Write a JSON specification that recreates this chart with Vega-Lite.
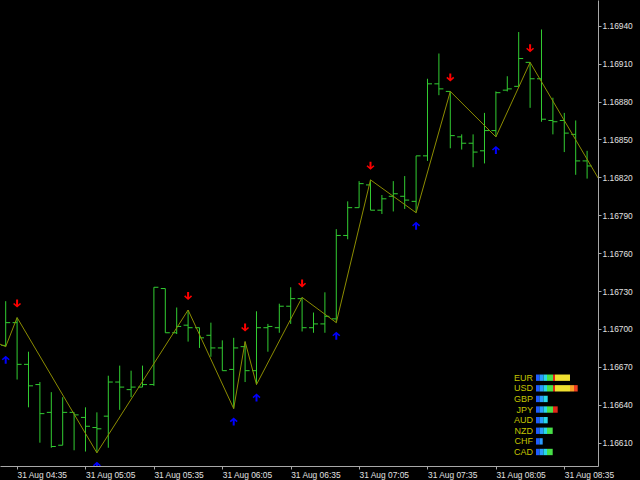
{
  "$schema": "https://vega.github.io/schema/vega-lite/v6.json",
  "width": 598,
  "height": 466,
  "autosize": {"type": "none"},
  "padding": {"left": 0, "top": 0, "right": 42, "bottom": 14},
  "background": "#000000",
  "config": {"view": {"stroke": null}},
  "datasets": {
    "bars": [
      {"t": "2018-08-31T04:30:00", "o": 1.16687, "h": 1.16722, "l": 1.16686, "c": 1.16705},
      {"t": "2018-08-31T04:35:00", "o": 1.16705, "h": 1.16709, "l": 1.16660, "c": 1.16672},
      {"t": "2018-08-31T04:40:00", "o": 1.16672, "h": 1.16682, "l": 1.16638, "c": 1.16655},
      {"t": "2018-08-31T04:45:00", "o": 1.16656, "h": 1.16658, "l": 1.16610, "c": 1.16633},
      {"t": "2018-08-31T04:50:00", "o": 1.16634, "h": 1.16650, "l": 1.16606, "c": 1.16607},
      {"t": "2018-08-31T04:55:00", "o": 1.16608, "h": 1.16646, "l": 1.16608, "c": 1.16634},
      {"t": "2018-08-31T05:00:00", "o": 1.16634, "h": 1.16634, "l": 1.16604, "c": 1.16632},
      {"t": "2018-08-31T05:05:00", "o": 1.16630, "h": 1.16638, "l": 1.16603, "c": 1.16623},
      {"t": "2018-08-31T05:10:00", "o": 1.16622, "h": 1.16634, "l": 1.16602, "c": 1.16621},
      {"t": "2018-08-31T05:15:00", "o": 1.16631, "h": 1.16663, "l": 1.16606, "c": 1.16658},
      {"t": "2018-08-31T05:20:00", "o": 1.16658, "h": 1.16671, "l": 1.16636, "c": 1.16654},
      {"t": "2018-08-31T05:25:00", "o": 1.16652, "h": 1.16667, "l": 1.16646, "c": 1.16654},
      {"t": "2018-08-31T05:30:00", "o": 1.16654, "h": 1.16671, "l": 1.16654, "c": 1.16656},
      {"t": "2018-08-31T05:35:00", "o": 1.16656, "h": 1.16733, "l": 1.16655, "c": 1.16733},
      {"t": "2018-08-31T05:40:00", "o": 1.16732, "h": 1.16732, "l": 1.16697, "c": 1.16697},
      {"t": "2018-08-31T05:45:00", "o": 1.16697, "h": 1.16717, "l": 1.16696, "c": 1.16702},
      {"t": "2018-08-31T05:50:00", "o": 1.16703, "h": 1.16715, "l": 1.16690, "c": 1.16701},
      {"t": "2018-08-31T05:55:00", "o": 1.16701, "h": 1.16701, "l": 1.16685, "c": 1.16693},
      {"t": "2018-08-31T06:00:00", "o": 1.16695, "h": 1.16705, "l": 1.16678, "c": 1.16685},
      {"t": "2018-08-31T06:05:00", "o": 1.16685, "h": 1.16691, "l": 1.16667, "c": 1.16667},
      {"t": "2018-08-31T06:10:00", "o": 1.16668, "h": 1.16693, "l": 1.16637, "c": 1.16685},
      {"t": "2018-08-31T06:15:00", "o": 1.16686, "h": 1.16690, "l": 1.16658, "c": 1.16667},
      {"t": "2018-08-31T06:20:00", "o": 1.16667, "h": 1.16714, "l": 1.16656, "c": 1.16701},
      {"t": "2018-08-31T06:25:00", "o": 1.16701, "h": 1.16704, "l": 1.16682, "c": 1.16702},
      {"t": "2018-08-31T06:30:00", "o": 1.16701, "h": 1.16720, "l": 1.16697, "c": 1.16718},
      {"t": "2018-08-31T06:35:00", "o": 1.16718, "h": 1.16733, "l": 1.16704, "c": 1.16724},
      {"t": "2018-08-31T06:40:00", "o": 1.16724, "h": 1.16725, "l": 1.16698, "c": 1.16701},
      {"t": "2018-08-31T06:45:00", "o": 1.16701, "h": 1.16713, "l": 1.16697, "c": 1.16704},
      {"t": "2018-08-31T06:50:00", "o": 1.16704, "h": 1.16729, "l": 1.16697, "c": 1.16710},
      {"t": "2018-08-31T06:55:00", "o": 1.16708, "h": 1.16779, "l": 1.16705, "c": 1.16774},
      {"t": "2018-08-31T07:00:00", "o": 1.16774, "h": 1.16801, "l": 1.16771, "c": 1.16796},
      {"t": "2018-08-31T07:05:00", "o": 1.16796, "h": 1.16817, "l": 1.16796, "c": 1.16815},
      {"t": "2018-08-31T07:10:00", "o": 1.16814, "h": 1.16818, "l": 1.16794, "c": 1.16794},
      {"t": "2018-08-31T07:15:00", "o": 1.16794, "h": 1.16806, "l": 1.16791, "c": 1.16803},
      {"t": "2018-08-31T07:20:00", "o": 1.16805, "h": 1.16817, "l": 1.16793, "c": 1.16807},
      {"t": "2018-08-31T07:25:00", "o": 1.16805, "h": 1.16821, "l": 1.16795, "c": 1.16802},
      {"t": "2018-08-31T07:30:00", "o": 1.16801, "h": 1.16837, "l": 1.16792, "c": 1.16837},
      {"t": "2018-08-31T07:35:00", "o": 1.16837, "h": 1.16898, "l": 1.16833, "c": 1.16894},
      {"t": "2018-08-31T07:40:00", "o": 1.16894, "h": 1.16918, "l": 1.16885, "c": 1.16890},
      {"t": "2018-08-31T07:45:00", "o": 1.16888, "h": 1.16888, "l": 1.16843, "c": 1.16853},
      {"t": "2018-08-31T07:50:00", "o": 1.16852, "h": 1.16854, "l": 1.16842, "c": 1.16847},
      {"t": "2018-08-31T07:55:00", "o": 1.16847, "h": 1.16854, "l": 1.16828, "c": 1.16840},
      {"t": "2018-08-31T08:00:00", "o": 1.16841, "h": 1.16871, "l": 1.16831, "c": 1.16857},
      {"t": "2018-08-31T08:05:00", "o": 1.16857, "h": 1.16888, "l": 1.16852, "c": 1.16887},
      {"t": "2018-08-31T08:10:00", "o": 1.16889, "h": 1.16900, "l": 1.16888, "c": 1.16890},
      {"t": "2018-08-31T08:15:00", "o": 1.16892, "h": 1.16935, "l": 1.16892, "c": 1.16914},
      {"t": "2018-08-31T08:20:00", "o": 1.16911, "h": 1.16911, "l": 1.16875, "c": 1.16898},
      {"t": "2018-08-31T08:25:00", "o": 1.16898, "h": 1.16937, "l": 1.16864, "c": 1.16866},
      {"t": "2018-08-31T08:30:00", "o": 1.16865, "h": 1.16883, "l": 1.16854, "c": 1.16864},
      {"t": "2018-08-31T08:35:00", "o": 1.16865, "h": 1.16871, "l": 1.16840, "c": 1.16855},
      {"t": "2018-08-31T08:40:00", "o": 1.16854, "h": 1.16865, "l": 1.16822, "c": 1.16833},
      {"t": "2018-08-31T08:45:00", "o": 1.16833, "h": 1.16841, "l": 1.16819, "c": 1.16829}
    ],
    "zz": [
      {"t": "2018-08-31T04:25:00", "p": 1.16690, "k": "x"},
      {"t": "2018-08-31T04:30:00", "p": 1.16686, "k": "lo"},
      {"t": "2018-08-31T04:35:00", "p": 1.16709, "k": "hi"},
      {"t": "2018-08-31T05:10:00", "p": 1.16602, "k": "lo"},
      {"t": "2018-08-31T05:50:00", "p": 1.16715, "k": "hi"},
      {"t": "2018-08-31T06:10:00", "p": 1.16637, "k": "lo"},
      {"t": "2018-08-31T06:15:00", "p": 1.16690, "k": "hi"},
      {"t": "2018-08-31T06:20:00", "p": 1.16656, "k": "lo"},
      {"t": "2018-08-31T06:40:00", "p": 1.16725, "k": "hi"},
      {"t": "2018-08-31T06:55:00", "p": 1.16705, "k": "lo"},
      {"t": "2018-08-31T07:10:00", "p": 1.16818, "k": "hi"},
      {"t": "2018-08-31T07:30:00", "p": 1.16792, "k": "lo"},
      {"t": "2018-08-31T07:45:00", "p": 1.16888, "k": "hi"},
      {"t": "2018-08-31T08:05:00", "p": 1.16852, "k": "lo"},
      {"t": "2018-08-31T08:20:00", "p": 1.16911, "k": "hi"},
      {"t": "2018-08-31T08:50:00", "p": 1.16819, "k": "x"}
    ],
    "meter": [
      {"cur": "EUR", "lo": 0, "hi": 3.5, "z": "z1"}, {"cur": "EUR", "lo": 3.5, "hi": 7.5, "z": "z2"}, {"cur": "EUR", "lo": 7.5, "hi": 11, "z": "z3"}, {"cur": "EUR", "lo": 11, "hi": 17, "z": "z4"}, {"cur": "EUR", "lo": 17, "hi": 19, "z": "z5"}, {"cur": "EUR", "lo": 19, "hi": 34, "z": "z6"},
      {"cur": "USD", "lo": 0, "hi": 3.5, "z": "z1"}, {"cur": "USD", "lo": 3.5, "hi": 7.5, "z": "z2"}, {"cur": "USD", "lo": 7.5, "hi": 11, "z": "z3"}, {"cur": "USD", "lo": 11, "hi": 17, "z": "z4"}, {"cur": "USD", "lo": 17, "hi": 19, "z": "z5"}, {"cur": "USD", "lo": 19, "hi": 34, "z": "z6"}, {"cur": "USD", "lo": 34, "hi": 38, "z": "z7"}, {"cur": "USD", "lo": 38, "hi": 41.7, "z": "z8"},
      {"cur": "GBP", "lo": 0, "hi": 3.5, "z": "z1"}, {"cur": "GBP", "lo": 3.5, "hi": 7.5, "z": "z2"}, {"cur": "GBP", "lo": 7.5, "hi": 11.7, "z": "z3"},
      {"cur": "JPY", "lo": 0, "hi": 3.5, "z": "z1"}, {"cur": "JPY", "lo": 3.5, "hi": 7.5, "z": "z2"}, {"cur": "JPY", "lo": 7.5, "hi": 11, "z": "z3"}, {"cur": "JPY", "lo": 11, "hi": 17, "z": "z4"}, {"cur": "JPY", "lo": 17, "hi": 21.7, "z": "z5"},
      {"cur": "AUD", "lo": 0, "hi": 3.5, "z": "z1"}, {"cur": "AUD", "lo": 3.5, "hi": 7.5, "z": "z2"}, {"cur": "AUD", "lo": 7.5, "hi": 11.7, "z": "z3"},
      {"cur": "NZD", "lo": 0, "hi": 3.5, "z": "z1"}, {"cur": "NZD", "lo": 3.5, "hi": 7.5, "z": "z2"}, {"cur": "NZD", "lo": 7.5, "hi": 11, "z": "z3"}, {"cur": "NZD", "lo": 11, "hi": 16.7, "z": "z4"},
      {"cur": "CHF", "lo": 0, "hi": 3.5, "z": "z1"}, {"cur": "CHF", "lo": 3.5, "hi": 6.7, "z": "z2"},
      {"cur": "CAD", "lo": 0, "hi": 3.5, "z": "z1"}, {"cur": "CAD", "lo": 3.5, "hi": 7.5, "z": "z2"}, {"cur": "CAD", "lo": 7.5, "hi": 11, "z": "z3"}, {"cur": "CAD", "lo": 11, "hi": 16.7, "z": "z4"}
    ]
  },
  "layer": [
    {
      "encoding": {
        "x": {
          "field": "t", "type": "temporal",
          "scale": {"domain": [
            {"year": 2018, "month": 8, "date": 31, "hours": 4, "minutes": 27, "seconds": 30},
            {"year": 2018, "month": 8, "date": 31, "hours": 8, "minutes": 49, "seconds": 47}
          ]},
          "axis": {
            "title": null, "grid": false, "format": "%d %b %H:%M",
            "values": [
              {"year": 2018, "month": 8, "date": 31, "hours": 4, "minutes": 35},
              {"year": 2018, "month": 8, "date": 31, "hours": 5, "minutes": 5},
              {"year": 2018, "month": 8, "date": 31, "hours": 5, "minutes": 35},
              {"year": 2018, "month": 8, "date": 31, "hours": 6, "minutes": 5},
              {"year": 2018, "month": 8, "date": 31, "hours": 6, "minutes": 35},
              {"year": 2018, "month": 8, "date": 31, "hours": 7, "minutes": 5},
              {"year": 2018, "month": 8, "date": 31, "hours": 7, "minutes": 35},
              {"year": 2018, "month": 8, "date": 31, "hours": 8, "minutes": 5},
              {"year": 2018, "month": 8, "date": 31, "hours": 8, "minutes": 35}
            ],
            "labelAlign": "left", "labelBaseline": "top", "labelFlush": false, "labelOverlap": false,
            "labelPadding": 1, "tickSize": 3,
            "labelFont": "Liberation Sans", "labelFontSize": 8.4, "labelColor": "#e0e0e0",
            "domainColor": "#a8a8a8", "tickColor": "#a8a8a8"
          }
        },
        "y": {
          "type": "quantitative",
          "scale": {"domain": [1.1659156, 1.1696034], "nice": false, "zero": false},
          "axis": {
            "orient": "right", "title": null, "grid": false, "format": ".5f",
            "values": [1.1661, 1.1664, 1.1667, 1.167, 1.1673, 1.1676, 1.1679, 1.1682, 1.1685, 1.1688, 1.1691, 1.1694],
            "labelPadding": 1, "tickSize": 3, "labelOverlap": false,
            "labelFont": "Liberation Sans", "labelFontSize": 8.4, "labelColor": "#e0e0e0",
            "domainColor": "#a8a8a8", "tickColor": "#a8a8a8"
          }
        }
      },
      "layer": [
        {
          "data": {"name": "bars"},
          "mark": {"type": "rule", "color": "#32cd32", "strokeWidth": 1, "clip": true},
          "encoding": {"y": {"field": "l"}, "y2": {"field": "h"}}
        },
        {
          "data": {"name": "bars"},
          "mark": {"type": "rule", "color": "#32cd32", "strokeWidth": 1, "xOffset": -4.5, "x2Offset": 0, "clip": true},
          "encoding": {"x2": {"field": "t"}, "y": {"field": "o"}}
        },
        {
          "data": {"name": "bars"},
          "mark": {"type": "rule", "color": "#32cd32", "strokeWidth": 1, "xOffset": 0, "x2Offset": 4.5, "clip": true},
          "encoding": {"x2": {"field": "t"}, "y": {"field": "c"}}
        },
        {
          "data": {"name": "zz"},
          "mark": {"type": "line", "color": "#8c8c00", "strokeWidth": 1, "clip": true},
          "encoding": {"y": {"field": "p"}}
        },
        {
          "data": {"name": "zz"},
          "transform": [{"filter": "datum.k === 'hi'"}],
          "mark": {"type": "point", "filled": true, "color": "#ff0000", "opacity": 1, "size": 64, "strokeWidth": 0, "yOffset": -14, "clip": true,
                   "shape": "M-0.25,-1 L0.25,-1 L0.25,0.3 L0.72,-0.17 L1,0.12 L0,1 L-1,0.12 L-0.72,-0.17 L-0.25,0.3 Z"},
          "encoding": {"y": {"field": "p"}}
        },
        {
          "data": {"name": "zz"},
          "transform": [{"filter": "datum.k === 'lo'"}],
          "mark": {"type": "point", "filled": true, "color": "#0000ff", "opacity": 1, "size": 64, "strokeWidth": 0, "yOffset": 13, "clip": true,
                   "shape": "M-0.25,1 L0.25,1 L0.25,-0.3 L0.72,0.17 L1,-0.12 L0,-1 L-1,-0.12 L-0.72,0.17 L-0.25,-0.3 Z"},
          "encoding": {"y": {"field": "p"}}
        }
      ]
    },
    {
      "data": {"name": "meter"},
      "encoding": {
        "y": {"field": "cur", "type": "nominal",
              "scale": {"domain": ["EUR", "USD", "GBP", "JPY", "AUD", "NZD", "CHF", "CAD"], "range": [372.4, 457.3], "paddingInner": 0.4, "paddingOuter": 0.2},
              "axis": null},
        "x": {"field": "lo", "type": "quantitative", "scale": {"domain": [0, 42], "range": [536, 578], "nice": false, "zero": false}, "axis": null}
      },
      "layer": [
        {
          "mark": {"type": "bar"},
          "encoding": {
            "x2": {"field": "hi"},
            "color": {"field": "z", "type": "nominal", "legend": null,
                      "scale": {"domain": ["z1", "z2", "z3", "z4", "z5", "z6", "z7", "z8"],
                                "range": ["#1e5bff", "#2a9bff", "#28d8e8", "#48e048", "#e02818", "#f0e030", "#f8a028", "#f04020"]}}
          }
        },
        {
          "transform": [{"filter": "datum.z === 'z1'"}],
          "mark": {"type": "text", "align": "right", "baseline": "middle", "dx": -3, "color": "#c4c400", "font": "Liberation Sans", "fontSize": 9},
          "encoding": {"text": {"field": "cur"}}
        }
      ]
    }
  ],
  "resolve": {"scale": {"x": "independent", "y": "independent"}}
}
